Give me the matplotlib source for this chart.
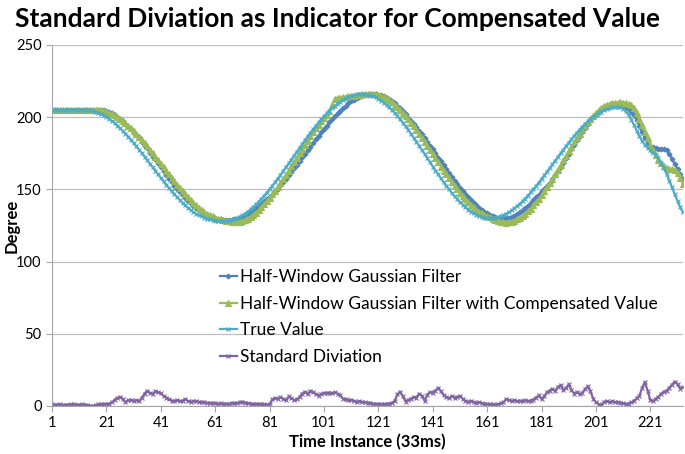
import numpy as np
import matplotlib
matplotlib.use("Agg")
import matplotlib.pyplot as plt

# values (one value per time instance)
half_window = [205] * 18 + [
    204.9, 204.7, 204.4, 203.8, 202.9, 201.8, 200.4, 198.8, 197.0, 195.0,
    193.2, 191.5, 189.0, 187.6, 186.2, 183.0, 180.2, 178.4, 175.5, 172.5,
    170.9, 168.2, 165.5, 162.6, 160.0, 157.4, 155.0, 152.6, 150.3, 148.0,
    145.9, 143.9, 142.0, 140.2, 138.6, 137.0, 135.6, 134.3, 133.2, 132.2,
    131.4, 130.7, 130.1, 129.6, 129.2, 128.9, 128.8, 128.8, 129.0,
    129.3, 129.7, 130.3, 131.0, 131.9, 132.9, 134.1, 135.4, 136.8, 138.3,
    139.9, 141.6, 143.0, 144.9, 146.3, 148.6, 150.5, 152.8, 154.9, 157.4,
    159.6, 162.2, 164.5, 167.1, 169.6, 172.2, 174.5, 177.2, 179.5, 182.2,
    184.6, 187.0, 189.5, 191.8, 194.2, 196.4, 198.6, 200.6, 202.6, 204.5,
    206.3, 208.0, 209.5, 210.9, 212.1, 213.1, 214.0, 214.7, 215.2, 215.6,
    215.8, 215.9, 215.8, 215.5, 215.0, 214.3, 213.4, 212.3, 211.0, 209.5,
    207.8, 206.0, 204.0, 201.9, 199.7, 197.2, 195.4, 193.0, 190.2, 188.1,
    185.3, 183.0, 180.0, 177.6, 175.0, 172.0, 169.6, 166.8, 164.0, 161.4,
    158.6, 156.0, 153.5, 151.0, 148.7, 146.5, 144.4, 142.5, 140.6, 138.9,
    137.3, 135.8, 134.5, 133.3, 132.3, 131.4, 130.7, 130.2, 129.9, 129.8,
    130.0, 130.4, 131.0, 131.8, 132.8, 134.0, 135.4, 137.0, 138.7, 140.6,
    142.6, 144.7, 146.3, 148.5, 150.2, 152.6, 154.5, 157.3, 159.8, 162.6,
    165.5, 168.5, 171.5, 174.6, 177.7, 180.8, 183.9, 186.9, 189.8, 192.6,
    195.2, 197.7, 199.9, 201.9, 203.6, 205.0, 206.2, 207.1, 207.7, 208.1,
    208.3, 208.3, 208.1, 207.6, 206.8, 205.5, 203.7, 201.2, 198.0, 194.0,
    189.5, 185.2, 182.0, 180.0, 179.0, 178.5, 178.0, 177.8, 178.0, 177.0,
    174.5, 171.0, 167.5, 164.0, 160.5, 157.0]

compensated = [205] * 16 + [
    205.0, 204.9, 204.7, 204.3, 203.7, 203.0, 202.2, 201.2, 200.0, 198.8,
    197.4, 195.8, 194.2, 192.4, 190.5, 188.5, 186.5, 184.3, 182.1, 179.8,
    177.5, 175.1, 172.7, 170.2, 167.7, 165.3, 162.8, 160.3, 157.9, 155.5,
    153.2, 150.9, 148.7, 146.5, 144.5, 142.5, 140.6, 138.8, 137.2, 135.6,
    134.2, 133.0, 132.0, 131.2, 130.3, 129.7, 129.3, 128.7, 128.3, 128.1,
    127.5, 127.2, 127.3,
    127.5, 128.0, 128.7, 129.6, 130.8, 132.2, 133.8, 135.6, 137.5, 139.6,
    141.8, 144.1, 146.5, 149.0, 151.6, 154.3, 157.1, 160.0, 162.9, 165.9,
    168.9, 171.9, 174.9, 177.9, 180.9, 183.8, 186.7, 189.5, 192.2, 194.8,
    197.3, 199.6, 201.8,
    204.5, 208.5, 212.8, 213.5, 213.2, 213.6, 214.0, 214.3, 214.6, 214.9,
    215.2, 215.5, 215.7, 215.9, 216.0, 216.0, 215.9, 215.7, 215.3, 214.8,
    214.0,
    213.0, 211.8, 210.3, 208.6, 206.8, 204.9, 202.9, 200.8, 198.5, 196.1,
    193.6, 191.1, 188.4, 185.7, 183.0, 180.2, 177.3, 174.4, 171.6, 168.7,
    165.8, 163.0, 160.3, 157.6, 154.9, 152.4, 149.9, 147.5, 145.2, 143.1,
    141.1, 139.3, 137.6, 136.0, 134.6, 133.4, 132.4, 131.5, 130.6, 129.7,
    128.8, 128.0, 127.4, 127.1, 127.0, 127.2,
    127.6, 128.3, 129.2, 130.3, 131.6, 133.1, 134.8, 136.7, 138.8, 141.0,
    143.4, 146.0, 148.7, 151.5, 154.4, 157.4, 160.5, 163.6, 166.8, 170.0,
    173.2, 176.4, 179.5, 182.6, 185.6, 188.5, 191.3, 194.0, 196.5, 198.9,
    201.1, 203.1, 204.9, 206.4, 207.7, 208.7, 209.4, 209.8, 210.0,
    210.1, 210.2, 210.1, 209.8, 209.0,
    208.2, 206.0, 202.8, 198.8, 194.5, 190.0, 185.5, 181.0, 177.0, 173.5,
    170.5, 168.0, 166.0, 164.5, 163.8, 164.0, 163.5, 161.5, 158.0, 153.5]

true_value = [205] * 12 + [
    205.0, 204.9, 204.7, 204.3, 203.7, 203.0, 202.2, 201.2, 200.0, 198.8,
    197.4, 195.8, 194.2, 192.4, 190.5, 188.5, 186.5, 184.3, 182.1, 179.8,
    177.5, 175.1, 172.7, 170.2, 167.7, 165.3, 162.8, 160.3, 157.9, 155.5,
    153.2, 150.9, 148.7, 146.5, 144.5, 142.5, 140.6, 138.8, 137.2, 135.6,
    134.2, 133.0, 132.0, 131.2, 130.3, 129.7, 129.3, 128.7, 128.3, 128.1,
    128.0,
    128.0, 128.1, 128.3, 128.8, 129.3, 130.1, 131.0, 132.0, 133.2, 134.6,
    136.1, 137.7, 139.5, 141.4, 143.4, 145.5, 147.7, 150.0, 152.4, 154.9,
    157.4, 160.0, 162.6, 165.2, 167.9, 170.6, 173.4, 176.1, 178.8, 181.4,
    184.0, 186.6, 189.1, 191.6, 194.0, 196.3, 198.5, 200.6, 202.6, 204.5,
    206.3, 207.9, 209.4, 210.8, 212.0, 213.0, 213.9, 214.7, 215.2, 215.7,
    215.9, 216.0,
    215.9, 215.6, 215.1, 214.5, 213.6, 212.6, 211.4, 210.0, 208.4, 206.7,
    204.9, 202.9, 200.8, 198.5, 196.1, 193.6, 191.1, 188.4, 185.7, 183.0,
    180.2, 177.3, 174.4, 171.6, 168.7, 165.8, 163.0, 160.3, 157.6, 154.9,
    152.4, 149.9, 147.5, 145.2, 143.1, 141.1, 139.3, 137.6, 136.0, 134.6,
    133.4, 132.4, 131.5, 130.9, 130.4, 130.1, 130.0,
    130.1, 130.3, 130.8, 131.4, 132.1, 133.1, 134.1, 135.4, 136.8, 138.3,
    139.9, 141.7, 143.6, 145.7, 147.8, 150.0, 152.3, 154.7, 157.1, 159.6,
    162.1, 164.6, 167.2, 169.8, 172.4, 174.9, 177.4, 179.9, 182.3, 184.7,
    187.0, 189.2, 191.3, 193.4, 195.3, 197.1, 198.7, 200.2, 201.6, 202.9,
    203.9, 204.9, 205.6, 206.2, 206.7, 206.9, 207.0,
    206.7, 205.8, 204.0, 201.5, 198.3, 194.6, 190.6, 186.8, 183.5, 180.8,
    178.7, 177.0, 175.5, 173.8, 171.5, 168.5, 164.8, 160.5, 156.0, 151.3,
    146.5, 141.8, 137.5, 134.0]

std_dev = [
    1.0, 0.8, 0.9, 1.0, 0.8, 0.7, 0.9, 1.0, 1.1, 0.9, 0.8, 1.0, 0.9,
    0.5, 0.2, 0.0, 0.4,
    1.0, 1.2, 1.0, 1.3, 1.5, 2.5,
    4.0, 5.5, 6.2, 4.8, 2.5,
    3.8, 4.2, 3.5, 4.0, 3.2, 5.5,
    8.5, 10.5, 9.0, 8.0, 10.2, 9.5, 8.6,
    7.0, 5.8, 4.5, 3.6, 3.5, 3.8,
    3.3, 3.6, 4.6, 3.4, 2.8, 3.5,
    3.2, 2.9, 2.6, 2.4, 2.2, 2.1, 1.9,
    1.8, 1.6, 1.7, 1.5, 1.6, 1.5, 1.8, 1.7, 1.9,
    2.4, 2.8, 2.3, 1.9, 1.6,
    1.2, 1.5, 1.3, 1.0, 1.2, 0.9, 1.1,
    4.5, 5.5, 4.8, 6.0, 5.0, 3.8, 6.5, 5.2, 4.0, 4.5, 6.0,
    8.5, 9.8, 8.0, 10.5, 9.5, 8.2, 7.0, 8.4,
    9.0, 8.8, 9.2, 8.9, 9.3, 8.5, 7.2,
    5.0, 4.6, 3.8, 4.2, 3.5, 3.0, 3.3, 2.8, 2.5, 2.2, 2.0,
    1.6, 1.4, 1.2, 1.3, 1.1, 1.4, 1.6, 2.0,
    3.5, 8.0, 9.8, 6.5, 3.0,
    4.2, 5.0, 6.2, 5.5,
    8.5, 7.0, 3.5, 7.8, 9.5,
    9.2, 10.5, 12.5, 10.0, 7.5,
    6.0, 5.2, 6.8, 5.5, 6.4,
    6.8, 5.0, 3.5, 2.8, 3.6, 2.6,
    2.2, 2.5, 1.8, 1.6, 1.4, 1.2, 1.0,
    0.8, 1.3, 1.7, 2.5, 4.8,
    4.2, 3.5, 3.8, 3.4, 3.6, 3.5, 3.9, 3.3, 3.7, 4.4, 5.8,
    7.2, 4.8, 6.5, 9.5, 10.5, 11.8, 10.2,
    13.0, 14.5, 10.8, 12.2, 15.0, 11.0, 8.5,
    9.6, 8.0, 9.2, 11.5, 13.5, 10.0, 5.0,
    2.5, 1.2, 0.2, 2.8, 3.5, 2.4,
    3.2, 2.6, 2.8, 2.2, 1.8, 1.4, 1.6,
    2.4, 3.6, 5.2, 7.0, 12.5, 16.5,
    10.5, 4.0, 3.2, 5.0, 6.2, 8.4,
    9.8, 10.5, 12.6, 14.8, 16.8, 15.0, 12.0, 13.0]

labels = ["Half-Window Gaussian Filter",
          "Half-Window Gaussian Filter with Compensated Value",
          "True Value",
          "Standard Diviation"]
colors = ["#4F81BD", "#9BBB59", "#4BACC6", "#8064A2"]
markers = ["D", "^", "x", "x"]
msizes = [2.5, 4, 3.5, 3.5]

plt.rcParams['font.family'] = ['Lato', 'DejaVu Sans']

fig = plt.figure(figsize=(6.85, 4.54), dpi=100)
ax = fig.add_axes([0.076, 0.106, 0.921, 0.795])

series = [half_window, compensated, true_value, std_dev]
for s, lab, c, m, ms in zip(series, labels, colors, markers, msizes):
    x = np.arange(1, len(s) + 1)
    ax.plot(x, s, color=c, lw=1.6, marker=m, ms=ms, mew=0.8, label=lab)

n = max(len(s) for s in series)
ax.set_xlim(1, n)
ax.set_ylim(0, 250)
ax.set_yticks(range(0, 251, 50))
ax.set_xticks(range(1, n, 20))
ax.yaxis.grid(True, color="#BFBFBF", lw=0.9)
ax.set_axisbelow(True)
for sp in ["top", "right"]:
    ax.spines[sp].set_visible(False)
for sp in ["left", "bottom"]:
    ax.spines[sp].set_color("#A6A6A6")
ax.tick_params(axis="both", colors="#A6A6A6", labelcolor="black",
               labelsize=10.5, length=4)

ax.set_xlabel("Time Instance (33ms)", fontsize=12, fontweight="bold", labelpad=3)
ax.set_ylabel("Degree", fontsize=12, fontweight="bold")
ax.yaxis.set_label_coords(-0.052, 0.5)
fig.suptitle("Standard Diviation as Indicator for Compensated Value",
             fontsize=19, fontweight="bold", x=0.493, y=0.985)

ax.legend(loc="upper left", bbox_to_anchor=(0.252, 0.402), frameon=False,
          fontsize=12.5, labelspacing=0.6, handlelength=1.0, handletextpad=0.15,
          borderpad=0)

fig.savefig("out.png", dpi=100)
